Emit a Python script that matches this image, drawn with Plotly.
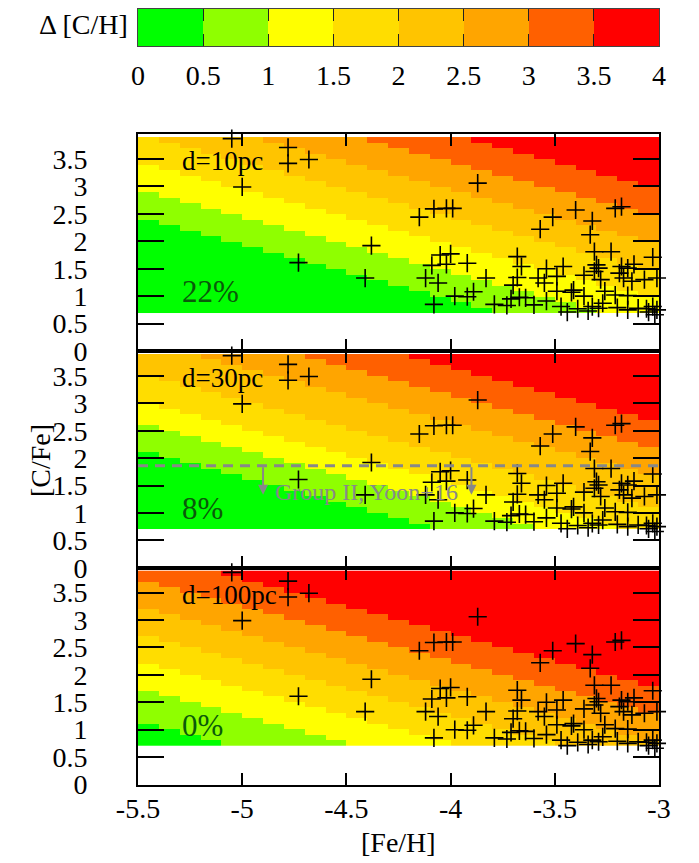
import numpy as np
import plotly.graph_objects as go

# ---------------- data ----------------
# model grid cell centres ([Fe/H] columns, [C/Fe] rows), 0.1 dex cells
feh_cells = [-5.45, -5.35, -5.25, -5.15, -5.05, -4.95, -4.85, -4.75, -4.65, -4.55,
             -4.45, -4.35, -4.25, -4.15, -4.05, -3.95, -3.85, -3.75, -3.65, -3.55,
             -3.45, -3.35, -3.25, -3.15, -3.05]
cfe_cells = [0.75, 0.85, 0.95, 1.05, 1.15, 1.25, 1.35, 1.45, 1.55, 1.65, 1.75, 1.85,
             1.95, 2.05, 2.15, 2.25, 2.35, 2.45, 2.55, 2.65, 2.75, 2.85, 2.95, 3.05,
             3.15, 3.25, 3.35, 3.45, 3.55, 3.65, 3.75, 3.85]

# Delta[C/H] colour bands and their colours
band_edges = [0, 0.5, 1, 1.5, 2, 2.5, 3, 3.5, 4]
band_labels = ["0", "0.5", "1", "1.5", "2", "2.5", "3", "3.5", "4"]
band_colors = ["#00FF00", "#8FFF00", "#FFFF00", "#FFDD00", "#FFC400", "#FFA500", "#FF6000", "#FF0000"]

# [C/H] (= [Fe/H] + [C/Fe]) at which Delta[C/H] crosses 0.5, 1.0, ..., 3.5
ch_cross_10pc = [-3.05, -2.55, -2.05, -1.55, -1.05, -0.55, -0.05]
ch_cross_30pc = [-3.35, -2.85, -2.45, -1.95, -1.35, -0.85, -0.35]
ch_cross_100pc = [-4.35, -3.75, -3.25, -2.75, -2.25, -1.75, -1.25]

panel_names = ["d=10pc", "d=30pc", "d=100pc"]
panel_fracs = ["22%", "8%", "0%"]

# observed stars
star_feh = [-5.05, -4.78, -4.78, -4.68, -5.00, -4.38, -4.73, -4.41, -3.87, -4.08,
            -4.02, -3.99, -4.15, -3.40, -3.21, -3.18, -3.51, -3.32, -3.57, -3.33,
            -3.31, -3.23, -3.03, -4.05, -4.00, -4.09, -4.02, -3.92, -3.68, -3.66,
            -3.46, -3.49, -3.54, -3.30, -3.29, -3.31, -3.28, -3.18, -3.15, -3.12,
            -4.12, -4.06, -3.83, -3.68, -3.70, -3.58, -3.55, -3.36, -3.19, -3.17,
            -3.13, -3.07, -3.01, -3.98, -3.92, -3.89, -4.08, -3.79, -3.73, -3.71,
            -3.67, -3.64, -3.60, -3.54, -3.49, -3.42, -3.41, -3.36, -3.26, -3.21,
            -3.15, -3.47, -3.44, -3.39, -3.34, -3.32, -3.29, -3.27, -3.20, -3.15,
            -3.10, -3.06, -3.03, -3.01, -3.02, -3.05]
star_cfe = [3.87, 3.71, 3.42, 3.49, 2.99, 1.92, 1.61, 1.33, 3.06, 2.59,
            2.60, 2.60, 2.44, 2.57, 2.60, 2.63, 2.44, 2.37, 2.22, 2.12,
            1.81, 1.81, 1.71, 1.75, 1.77, 1.56, 1.58, 1.60, 1.72, 1.54,
            1.54, 1.36, 1.50, 1.57, 1.51, 1.45, 1.30, 1.54, 1.51, 1.58,
            1.33, 1.24, 1.33, 1.34, 1.20, 1.33, 1.24, 1.38, 1.42, 1.33,
            1.27, 1.30, 1.33, 1.00, 0.99, 1.08, 0.85, 0.85, 0.83, 0.95,
            0.98, 0.97, 0.84, 0.91, 1.09, 1.07, 1.11, 1.00, 1.09, 1.02,
            1.01, 0.81, 0.71, 0.77, 0.73, 0.81, 0.78, 0.87, 0.79, 0.75,
            0.78, 0.77, 0.81, 0.75, 0.66, 0.71]

groupII_cfe = 1.86
groupII_arrow_feh = [-4.90, -3.90]

feh_ticks = [-5.5, -5, -4.5, -4, -3.5, -3]
feh_ticktext = ["-5.5", "-5", "-4.5", "-4", "-3.5", "-3"]
cfe_ticks = [0, 0.5, 1, 1.5, 2, 2.5, 3, 3.5]
cfe_ticktext = ["0", "0.5", "1", "1.5", "2", "2.5", "3", "3.5"]

# ---------------- layout geometry ----------------
# the page body adds an 8px offset, so the figure is 8px smaller and
# all screen positions are shifted by 8px
OFF = 8
W, H = 699 - OFF, 863 - OFF
FONT = "Liberation Serif, Times New Roman, serif"


def px(p):
    return min(1.0, max(0.0, (p - OFF) / W))


def py(p):
    return min(1.0, max(0.0, 1 - (p - OFF) / H))


xdom = [px(138), px(659)]
ydoms = [[py(351), py(134)],
         [py(567.7), py(351)],
         [py(784.5), py(567.7)]]
cbar_dom = [py(46), py(8.5)]

nb = len(band_colors)
colorscale = []
for i, c in enumerate(band_colors):
    colorscale.append([i / nb, c])
    colorscale.append([(i + 1) / nb, c])


def band_grid(cross):
    X, Y = np.meshgrid(np.array(feh_cells), np.array(cfe_cells))
    ch = X + Y
    return np.searchsorted(np.array(cross), ch)


fig = go.Figure()
crosses = [ch_cross_10pc, ch_cross_30pc, ch_cross_100pc]

for p in range(3):
    sx = "" if p == 0 else str(p + 1)
    fig.add_trace(go.Heatmap(
        x=feh_cells, y=cfe_cells, z=band_grid(crosses[p]),
        colorscale=colorscale, zmin=-0.5, zmax=nb - 0.5, showscale=False,
        xaxis="x" + sx, yaxis="y" + sx, hoverinfo="skip"))
    fig.add_trace(go.Scatter(
        x=star_feh, y=star_cfe, mode="markers",
        marker=dict(symbol="cross-thin", size=13, color="black",
                    line=dict(width=1.6, color="black")),
        cliponaxis=False, showlegend=False,
        xaxis="x" + sx, yaxis="y" + sx))

# colour bar as its own strip
cb_centres = [(band_edges[i] + band_edges[i + 1]) / 2 for i in range(nb)]
fig.add_trace(go.Heatmap(
    x=cb_centres, y=[0], z=[list(range(nb))],
    colorscale=colorscale, zmin=-0.5, zmax=nb - 0.5, showscale=False,
    xaxis="x4", yaxis="y4", hoverinfo="skip"))

TS = 28  # tick / title font size

layout = dict(
    width=W, height=H, margin=dict(l=0, r=0, t=0, b=0, autoexpand=False),
    paper_bgcolor="white", plot_bgcolor="white",
    font=dict(family=FONT, size=TS, color="black"),
    showlegend=False,
)

for p in range(3):
    sx = "" if p == 0 else str(p + 1)
    layout["xaxis" + sx] = dict(
        domain=xdom, range=[-5.5, -3], anchor="y" + sx, automargin=False,
        tickvals=feh_ticks, ticktext=feh_ticktext,
        showticklabels=(p == 2), ticks="inside", ticklen=12, tickwidth=1.5,
        tickcolor="black", showline=True, linewidth=2, linecolor="black",
        mirror="ticks", showgrid=False, zeroline=False,
        ticklabelstandoff=-2,
        tickfont=dict(family=FONT, size=TS))
    layout["yaxis" + sx] = dict(
        domain=ydoms[p], range=[0, 3.955], anchor="x" + sx, automargin=False,
        tickvals=cfe_ticks, ticktext=cfe_ticktext,
        ticks="inside", ticklen=26, tickwidth=1.5, tickcolor="black",
        showline=True, linewidth=2, linecolor="black", mirror="ticks",
        showgrid=False, zeroline=False, ticklabelstandoff=43,
        tickfont=dict(family=FONT, size=TS))

layout["xaxis4"] = dict(
    domain=xdom, range=[0, 4], anchor="y4", automargin=False,
    tickvals=band_edges, ticktext=band_labels,
    ticks="inside", ticklen=12, tickwidth=1, tickcolor="#222",
    showline=True, linewidth=1, linecolor="#444", mirror="ticks",
    showgrid=False, zeroline=False, ticklabelstandoff=4,
    tickfont=dict(family=FONT, size=TS))
layout["yaxis4"] = dict(
    domain=cbar_dom, range=[-0.5, 0.5], anchor="x4", automargin=False,
    showticklabels=False, ticks="", showline=True, linewidth=1,
    linecolor="#444", mirror=True, showgrid=False, zeroline=False)

fig.update_layout(**layout)

ann = []
for p in range(3):
    sx = "" if p == 0 else str(p + 1)
    ann.append(dict(x=-5.30, y=3.46, xref="x" + sx, yref="y" + sx, text=panel_names[p],
                    showarrow=False, xanchor="left", yanchor="middle",
                    font=dict(family=FONT, size=27, color="black")))
    ann.append(dict(x=-5.30, y=1.08, xref="x" + sx, yref="y" + sx, text=panel_fracs[p],
                    showarrow=False, xanchor="left", yanchor="middle",
                    font=dict(family=FONT, size=31, color="#0a5a0a")))

# Group II line + arrows + label in the middle panel
fig.add_shape(type="line", x0=-5.5, x1=-3.0, y0=groupII_cfe, y1=groupII_cfe,
              xref="x2", yref="y2", line=dict(color="#888888", width=3, dash="10px,7px"))
for fx in groupII_arrow_feh:
    ann.append(dict(x=fx, y=1.33, ax=fx, ay=groupII_cfe, xref="x2", yref="y2",
                    axref="x2", ayref="y2", text="", showarrow=True,
                    arrowhead=2, arrowsize=1, arrowwidth=2, arrowcolor="#888888"))
ann.append(dict(x=-4.85, y=1.39, xref="x2", yref="y2", text="Group II, Yoon+16",
                showarrow=False, xanchor="left", yanchor="middle",
                font=dict(family=FONT, size=24, color="#888888")))

# titles
ann.append(dict(x=px(130), y=py(25), xref="paper", yref="paper", text="Δ [C/H]",
                showarrow=False, xanchor="right", yanchor="middle",
                font=dict(family=FONT, size=TS)))
ann.append(dict(x=px(40), y=py(460), xref="paper", yref="paper", text="[C/Fe]",
                showarrow=False, textangle=-90, xanchor="center", yanchor="middle",
                font=dict(family=FONT, size=TS)))
ann.append(dict(x=px(398), y=py(842), xref="paper", yref="paper", text="[Fe/H]",
                showarrow=False, xanchor="center", yanchor="middle",
                font=dict(family=FONT, size=TS)))

fig.update_layout(annotations=ann)
fig.write_html("out.html")
